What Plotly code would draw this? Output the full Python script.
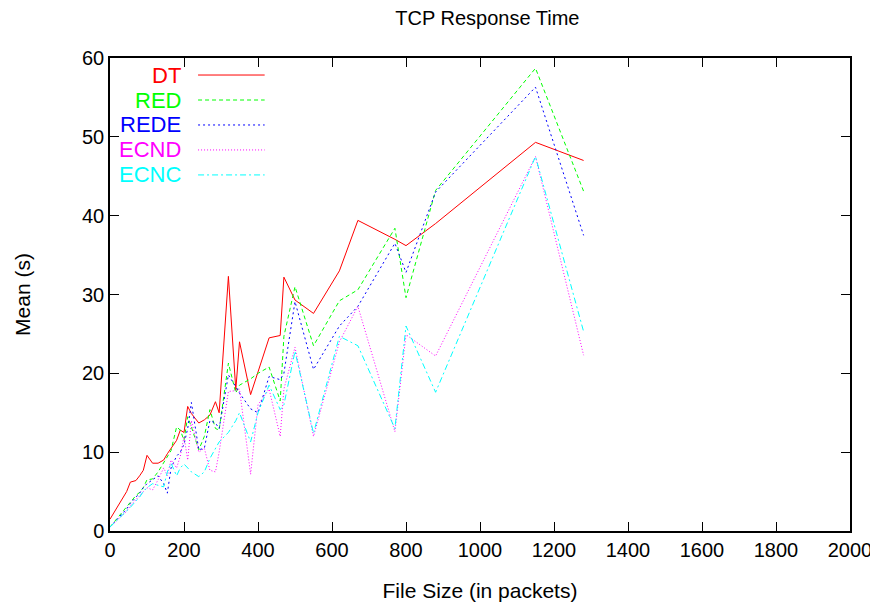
import plotly.graph_objects as go

# file sizes (packets), shared by all five queue schemes
file_size = [0, 30, 45, 55, 70, 80, 90, 100, 115, 130, 145, 155, 165, 180, 190,
             200, 210, 220, 240, 255, 270, 285, 295, 320, 340, 350, 380, 400,
             430, 460, 470, 500, 550, 620, 670, 770, 800, 880, 1150, 1280]

dt = [1.5, 3.9, 5.0, 6.2, 6.4, 7.0, 7.7, 9.6, 8.6, 8.6, 9.0, 9.8, 10.5, 11.5, 12.8,
      12.5, 15.8, 14.9, 13.7, 14.1, 14.7, 16.4, 15.0, 32.3, 17.9, 24.0, 17.3, 20.3,
      24.5, 24.8, 32.2, 29.3, 27.6, 33.0, 39.4, 37.0, 36.2, 39.0, 49.3, 47.0]

red = [0.5, 2.2, 3.0, 3.6, 4.5, 4.9, 5.5, 6.5, 6.6, 7.5, 8.7, 9.5, 10.2, 13.2, 12.8,
       11.5, 14.5, 13.2, 10.3, 12.0, 15.4, 13.0, 12.8, 21.3, 17.5, 18.5, 19.3, 20.0,
       20.8, 16.5, 24.7, 31.0, 23.5, 29.2, 30.6, 38.4, 29.6, 43.2, 58.7, 43.1]

rede = [0.5, 2.0, 2.8, 3.5, 4.3, 4.8, 5.5, 6.0, 6.5, 7.0, 6.0, 4.8, 8.0, 9.5, 10.0,
        11.0, 13.0, 16.3, 10.3, 10.5, 14.0, 13.7, 13.0, 19.8, 18.3, 17.5, 15.5, 15.0,
        19.6, 19.2, 20.0, 29.1, 20.5, 26.0, 28.5, 36.5, 32.8, 43.0, 56.3, 37.5]

ecnd = [0.5, 1.8, 2.5, 3.2, 4.0, 4.5, 5.0, 5.5, 5.2, 6.5, 8.0, 7.0, 9.0, 8.0, 9.5,
        12.0, 9.0, 14.0, 10.0, 10.5, 7.7, 7.5, 10.0, 17.7, 17.8, 18.0, 7.2, 16.0,
        18.0, 12.0, 18.0, 23.3, 12.0, 24.0, 28.5, 12.6, 24.9, 22.2, 47.5, 22.3]

ecnc = [0.5, 1.8, 2.5, 3.0, 3.8, 4.3, 5.0, 5.5, 6.0, 5.8, 5.6, 7.5, 8.6, 7.0, 8.0,
        8.5, 8.0, 7.5, 6.9, 7.5, 9.2, 10.5, 11.3, 12.5, 14.0, 15.0, 11.3, 15.0,
        18.5, 15.4, 16.0, 22.8, 12.4, 24.7, 23.5, 13.0, 26.0, 17.6, 47.5, 25.3]

series = [
    ('DT', dt, '#ff0000', 'solid'),
    ('RED', red, '#00ff00', '4px,3px'),
    ('REDE', rede, '#0000ff', '2px,3px'),
    ('ECND', ecnd, '#ff00ff', '1px,2px'),
    ('ECNC', ecnc, '#00ffff', '6px,3px,2px,3px'),
]

FONT = 'Liberation Sans, Arial, sans-serif'

fig = go.Figure()
for name, ys, color, dash in series:
    fig.add_trace(go.Scatter(x=file_size, y=ys, mode='lines', name=name,
                             line=dict(color=color, width=1, dash=dash)))

# gnuplot-style key: coloured label on the left, sample line to the right
for i, (name, ys, color, dash) in enumerate(series):
    ypos = 0.964 - i * 0.0528
    fig.add_annotation(xref='paper', yref='paper', x=0.099, y=ypos, text=name,
                       showarrow=False, xanchor='right', yanchor='middle',
                       font=dict(family=FONT, size=22, color=color))
    fig.add_shape(type='line', xref='paper', yref='paper', x0=0.119, x1=0.209,
                  y0=ypos, y1=ypos, line=dict(color=color, width=1, dash=dash))

axis_common = dict(showline=True, linecolor='black', linewidth=1.5, mirror='ticks',
                   ticks='inside', ticklen=9, tickcolor='black', tickwidth=1,
                   showgrid=False, zeroline=False, automargin=False,
                   tickfont=dict(family=FONT, size=20, color='black'))

# page body has an 8px margin, so the figure is a bit smaller than the window
fig.update_layout(
    width=870, height=597,
    paper_bgcolor='white', plot_bgcolor='white',
    margin=dict(l=102, r=28, t=50, b=74, autoexpand=False),
    showlegend=False,
    title=dict(text='TCP Response Time', x=0.551, xanchor='center', y=0.983,
               yanchor='middle', xref='container',
               font=dict(family=FONT, size=20, color='black')),
    xaxis=dict(range=[0, 2000], dtick=200,
               title=dict(text='File Size (in packets)', standoff=24,
                          font=dict(family=FONT, size=21, color='black')),
               **axis_common),
    yaxis=dict(range=[0, 60], dtick=10,
               title=dict(text='Mean (s)', standoff=46,
                          font=dict(family=FONT, size=21, color='black')),
               **axis_common),
)

fig.write_html('out.html')
